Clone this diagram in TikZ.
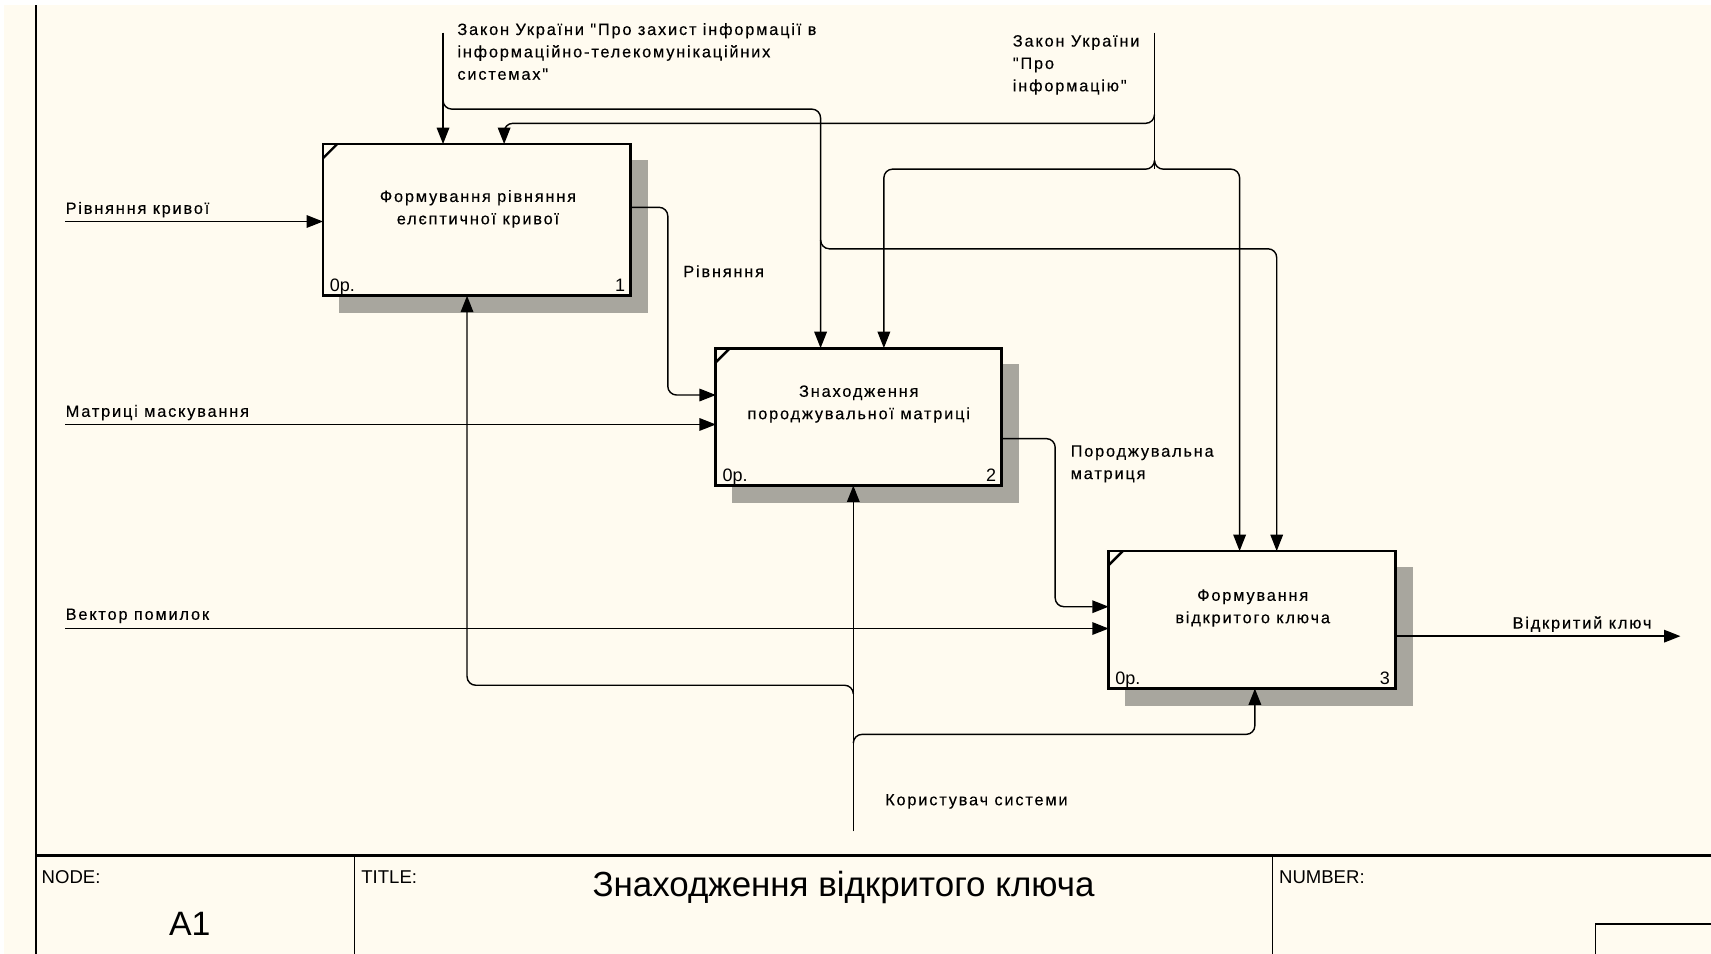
\documentclass[tikz,border=0pt]{standalone}
\usepackage{fontspec}
\setmainfont{Liberation Sans}
\newfontfamily\idef[LetterSpace=11,FakeBold=0.3]{Liberation Sans}
\usetikzlibrary{arrows.meta,calc}
\definecolor{paper}{RGB}{255,251,240}
\definecolor{shadow}{RGB}{168,166,158}

\tikzset{
  actbox/.style={draw=black, fill=paper, line width=2.6pt, inner sep=0pt, outer sep=0pt},
  conn/.style={line width=1.3pt, rounded corners=8pt},
  arr/.style={-{Triangle[length=15pt,width=11.5pt]}},
  lbl/.style={inner sep=0pt, font=\idef\fontsize{15}{20.5}\selectfont},
  boxtxt/.style={lbl, align=center, anchor=north},
  corner/.style={inner sep=0pt, font=\fontsize{16.5}{18}\selectfont},
  frame/.style={line width=1.4pt},
  blockhead/.style={inner sep=0pt, anchor=base west, font=\fontsize{17}{19}\selectfont}
}

\newcommand{\boxshadow}[1]{%
  \fill[shadow] ([xshift=15pt,yshift=-15pt]#1.north west) rectangle ([xshift=16pt,yshift=-16pt]#1.south east);}
\newcommand{\boxcorner}[1]{%
  \draw[line width=2.2pt] ([yshift=-13pt]#1.north west) -- ([xshift=13pt]#1.north west);}

\begin{document}
\begin{tikzpicture}[x=1pt,y=-1pt]
\useasboundingbox (0,0) rectangle (1568,874);
\fill[white] (0,0) rectangle (1568,874);
\fill[paper] (4,5) rectangle (1568,874);

% sheet frame and title block
\draw[frame] (33,5) -- (33,874);
\draw[line width=2.4pt] (33,784) -- (1568,784);
\draw[frame] (325,784) -- (325,874);
\draw[frame] (1166,784) -- (1166,874);
\draw[frame] (1462,874) -- (1462,847) -- (1568,847);
\node[blockhead] (hnode) at (38,810) {NODE:};
\node[blockhead] (htitle) at (331,810) {TITLE:};
\node[blockhead] (hnum) at (1172,810) {NUMBER:};
\node[inner sep=0pt, anchor=base, font=\fontsize{31}{34}\selectfont] (nodeid) at (174,857) {A1};
\node[inner sep=0pt, anchor=base, font=\fontsize{32}{36}\selectfont] (title) at (773,822) {Знаходження відкритого ключа};

% activity boxes
\coordinate (p1) at (437,201.5);
\coordinate (p2) at (787,382);
\coordinate (p3) at (1147.5,568);
\path (p1) node[minimum width=282pt, minimum height=139pt, inner sep=0pt, outer sep=0pt] (b1) {};
\path (p2) node[minimum width=262pt, minimum height=126pt, inner sep=0pt, outer sep=0pt] (b2) {};
\path (p3) node[minimum width=263pt, minimum height=126pt, inner sep=0pt, outer sep=0pt] (b3) {};
\boxshadow{b1}\boxshadow{b2}\boxshadow{b3}
\node[actbox, minimum width=282pt, minimum height=139pt] at (p1) {};
\node[actbox, minimum width=262pt, minimum height=126pt] at (p2) {};
\node[actbox, minimum width=263pt, minimum height=126pt] at (p3) {};
\boxcorner{b1}\boxcorner{b2}\boxcorner{b3}

\node[boxtxt] (t1) at (438,174) {Формування рівняння\\елєптичної кривої};
\node[boxtxt] (t2) at (787,353) {Знаходження\\породжувальної матриці};
\node[boxtxt] (t3) at (1148,540) {Формування\\відкритого ключа};
\foreach \b/\n in {b1/1,b2/2,b3/3}{
  \node[corner, anchor=base west] (\b cost) at ($(\b.south west)+(6,-4)$) {0р.};
  \node[corner, anchor=base east] (\b num) at ($(\b.south east)+(-5,-4)$) {\n};
}

% inputs
\coordinate (i1) at (60,203);
\coordinate (i2) at (60,389);
\coordinate (i3) at (60,576);
\draw[conn,arr] (i1) -- (i1 -| b1.west);
\draw[conn,arr] (i2) -- (i2 -| b2.west);
\draw[conn,arr] (i3) -- (i3 -| b3.west);
\node[lbl, anchor=base west] (li1) at (60,196) {Рівняння кривої};
\node[lbl, anchor=base west] (li2) at (60,382) {Матриці маскування};
\node[lbl, anchor=base west] (li3) at (60,568) {Вектор помилок};

% outputs
\draw[conn,arr] ($(b1.north east)+(0,58)$) -- (612,190) -- (612,362) -- ($(b2.north west)+(0,43)$);
\draw[conn,arr] ($(b2.north east)+(0,83)$) -- (967,402) -- (967,556) -- ($(b3.north west)+(0,51)$);
\coordinate (o3) at (1540,583);
\draw[conn,arr] (b3.east |- o3) -- (o3);
\node[lbl, anchor=base west] (lo1) at (626,254) {Рівняння};
\node[lbl, anchor=north west, align=left] (lo2) at (981,408) {Породжувальна\\матриця};
\node[lbl, anchor=base west] (lo3) at (1386,576) {Відкритий ключ};

% controls
\coordinate (c1) at (406,30);
\coordinate (c2) at (1058,30);
\coordinate (j1) at (406,100);
\coordinate (j2) at (752,228);
\coordinate (j3) at (1058,113);
\coordinate (j4) at (1058,155);
\draw[conn,arr] (c1) -- (c1 |- b1.north);
\draw[conn,arr] ([yshift=8pt]j1) -- (j1) -- (752,100) -- (752,0 |- b2.north);
\draw[conn,arr] ([yshift=8pt]j2) -- (j2) -- (1170,228) -- (1170,0 |- b3.north);
\draw[conn] (c2) -- (j4);
\draw[conn,arr] ([yshift=8pt]j3) -- (j3) -- (462,113) -- (462,0 |- b1.north);
\draw[conn,arr] ([yshift=8pt]j4) -- (j4) -- (810,155) -- (810,0 |- b2.north);
\draw[conn,arr] ([yshift=8pt]j4) -- (j4) -- (1136,155) -- (1136,0 |- b3.north);
\node[lbl, anchor=north west, align=left] (lc1) at (419,21) {Закон України "Про захист інформації в\\інформаційно-телекомунікаційних\\системах"};
\node[lbl, anchor=north west, align=left] (lc2) at (928,32) {Закон України\\"Про\\інформацію"};

% mechanisms
\coordinate (m1) at (782,762);
\coordinate (k1) at (782,628);
\coordinate (k2) at (782,673);
\draw[conn,arr] (m1) -- (m1 |- b2.south);
\draw[conn,arr] ([yshift=-8pt]k1) -- (k1) -- (428,628) -- (428,0 |- b1.south);
\draw[conn,arr] ([yshift=-8pt]k2) -- (k2) -- (1150,673) -- (1150,0 |- b3.south);
\node[lbl, anchor=base west] (lm1) at (811,738) {Користувач системи};
\end{tikzpicture}
\end{document}
